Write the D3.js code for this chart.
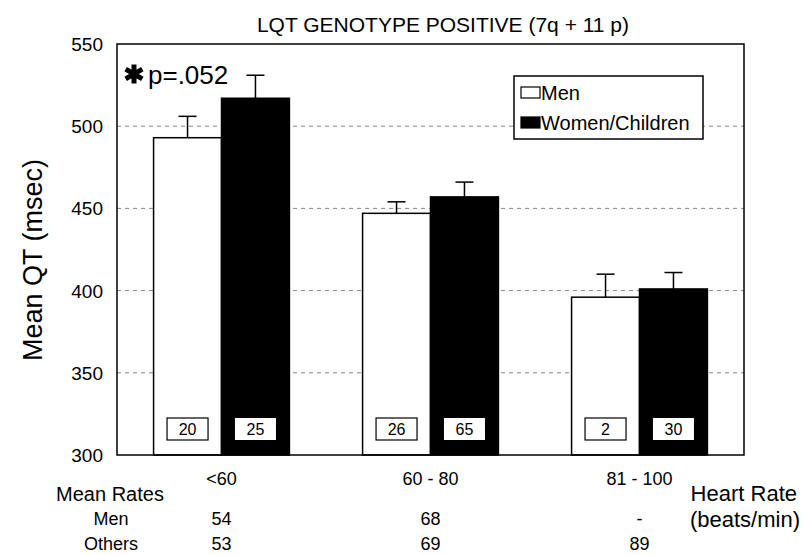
<!DOCTYPE html>
<html><head><meta charset="utf-8">
<script src="https://cdn.jsdelivr.net/npm/d3@7"></script>
<style>body{margin:0;background:#fff}svg{display:block;font-family:"Liberation Sans",Arial,sans-serif}</style>
</head><body><svg id="c" width="803" height="555"></svg>
<script>
const categories = ["<60", "60 - 80", "81 - 100"];
const seriesNames = ["Men", "Women/Children"];
const menMean = [493, 447, 396];
const menErr = [13, 7, 14];
const womenMean = [517, 457, 401];
const womenErr = [14, 9, 10];
const menN = ["20", "26", "2"];
const womenN = ["25", "65", "30"];
const menRate = ["54", "68", "-"];
const othersRate = ["53", "69", "89"];
const yTicks = [300, 350, 400, 450, 500, 550];
const gridTicks = [350, 400, 450, 500];

const svg = d3.select("#c");
const L = 117, R = 744, T = 44, B = 455;
const x = d3.scaleBand().domain(categories).range([L, R]).paddingInner(0.35).paddingOuter(0.175);
const xs = d3.scaleBand().domain([0, 1]).range([0, x.bandwidth()]);
const y = d3.scaleLinear().domain([300, 550]).range([B, T]);

// grid
svg.append("g").selectAll("line").data(gridTicks).join("line")
  .attr("x1", L).attr("x2", R).attr("y1", d => y(d)).attr("y2", d => y(d))
  .attr("stroke", "#888").attr("stroke-dasharray", "4,4").attr("stroke-width", 1);

const series = [
  {mean: menMean, err: menErr, n: menN, fill: "#fff"},
  {mean: womenMean, err: womenErr, n: womenN, fill: "#000"}
];
series.forEach((s, si) => {
  const g = svg.append("g");
  categories.forEach((c, i) => {
    const x0 = x(c) + xs(si), w = xs.bandwidth(), cx = x0 + w / 2;
    g.append("line").attr("x1", cx).attr("x2", cx).attr("y1", y(s.mean[i])).attr("y2", y(s.mean[i] + s.err[i]))
      .attr("stroke", "#000").attr("stroke-width", 1.5);
    g.append("line").attr("x1", cx - 9).attr("x2", cx + 9).attr("y1", y(s.mean[i] + s.err[i])).attr("y2", y(s.mean[i] + s.err[i]))
      .attr("stroke", "#000").attr("stroke-width", 1.5);
    g.append("rect").attr("x", x0).attr("y", y(s.mean[i])).attr("width", w).attr("height", B - y(s.mean[i]))
      .attr("fill", s.fill).attr("stroke", "#000").attr("stroke-width", 1.5);
    g.append("rect").attr("x", cx - 20.5).attr("y", 418).attr("width", 41).attr("height", 22)
      .attr("fill", "#fff").attr("stroke", si === 0 ? "#000" : "none").attr("stroke-width", 1.2);
    g.append("text").attr("x", cx).attr("y", 435).attr("text-anchor", "middle")
      .attr("font-size", 16).text(s.n[i]);
  });
});

// frame
svg.append("rect").attr("x", L).attr("y", T).attr("width", R - L).attr("height", B - T)
  .attr("fill", "none").attr("stroke", "#000").attr("stroke-width", 1.5);

// y axis labels
svg.append("g").selectAll("text").data(yTicks).join("text")
  .attr("x", 103).attr("y", d => y(d) + 7).attr("text-anchor", "end").attr("font-size", 19).text(d => d);
svg.append("text").attr("transform", "translate(42,260) rotate(-90)").attr("text-anchor", "middle")
  .attr("font-size", 27).text("Mean QT (msec)");

// title
svg.append("text").attr("x", 443).attr("y", 32).attr("text-anchor", "middle").attr("font-size", 21)
  .text("LQT GENOTYPE POSITIVE (7q + 11 p)");

// x category labels
svg.append("g").selectAll("text").data(categories).join("text")
  .attr("x", d => x(d) + x.bandwidth() / 2).attr("y", 485).attr("text-anchor", "middle").attr("font-size", 18).text(d => d);
svg.append("g").selectAll("text").data(menRate).join("text")
  .attr("x", (d, i) => x(categories[i]) + x.bandwidth() / 2).attr("y", 525).attr("text-anchor", "middle").attr("font-size", 18).text(d => d);
svg.append("g").selectAll("text").data(othersRate).join("text")
  .attr("x", (d, i) => x(categories[i]) + x.bandwidth() / 2).attr("y", 550).attr("text-anchor", "middle").attr("font-size", 18).text(d => d);
svg.append("text").attr("x", 110).attr("y", 501).attr("text-anchor", "middle").attr("font-size", 20).text("Mean Rates");
svg.append("text").attr("x", 111).attr("y", 525).attr("text-anchor", "middle").attr("font-size", 18).text("Men");
svg.append("text").attr("x", 111).attr("y", 550).attr("text-anchor", "middle").attr("font-size", 18).text("Others");
svg.append("text").attr("x", 797).attr("y", 501).attr("text-anchor", "end").attr("font-size", 22).text("Heart Rate");
svg.append("text").attr("x", 800).attr("y", 527).attr("text-anchor", "end").attr("font-size", 22).text("(beats/min)");

// p value
svg.append("path").attr("transform", "translate(134,74)")
  .attr("d", d3.symbol(d3.symbolAsterisk, 260)())
  .attr("stroke", "#000").attr("stroke-width", 5).attr("fill", "none");
svg.append("text").attr("x", 148).attr("y", 84).attr("font-size", 26).text("p=.052");

// legend
const lg = svg.append("g");
lg.append("rect").attr("x", 514).attr("y", 76).attr("width", 189).attr("height", 63)
  .attr("fill", "#fff").attr("stroke", "#000").attr("stroke-width", 1.5);
seriesNames.forEach((n, i) => {
  const yy = 87 + i * 30;
  lg.append("rect").attr("x", 521).attr("y", yy).attr("width", 19).attr("height", 11)
    .attr("fill", i === 0 ? "#fff" : "#000").attr("stroke", "#000").attr("stroke-width", 1.2);
  lg.append("text").attr("x", 541).attr("y", yy + 13).attr("font-size", 20).text(n);
});
</script></body></html>
